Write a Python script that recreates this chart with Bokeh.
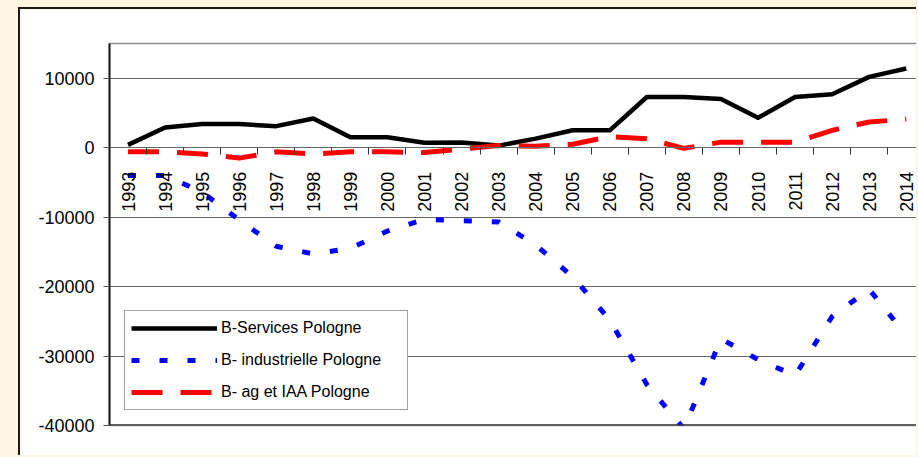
import math
from bokeh.plotting import figure
from bokeh.models import Range1d, FixedTicker, LinearAxis, Span, Spacer
from bokeh.layouts import row, column
from bokeh.embed import file_html
from bokeh.resources import INLINE

# ---- data ----
years = list(range(1993, 2015))
year_labels = [str(y) for y in years]
services = [400, 2900, 3400, 3400, 3100, 4200, 1500, 1500, 700, 750, 300, 1300,
            2500, 2500, 7300, 7300, 7000, 4300, 7300, 7700, 10200, 11400]
industrie = [-4000, -4000, -6400, -10400, -14200, -15300, -14500, -12000, -10300, -10500, -10700, -14000,
             -18600, -24800, -34100, -40500, -27500, -30500, -32800, -24300, -20400, -27000]
agri = [-600, -600, -900, -1500, -600, -900, -600, -600, -700, -200, 300, 200,
        500, 1600, 1300, -100, 800, 800, 800, 2500, 3700, 4100]
y_ticks = [-40000, -30000, -20000, -10000, 0, 10000]
y_tick_labels = ["-40000", "-30000", "-20000", "-10000", "0", "10000"]
series_names = ["B-Services Pologne", "B- industrielle Pologne", "B- ag et IAA Pologne"]

FONT = "Liberation Sans"
boundaries = [y - 0.5 for y in years] + [years[-1] + 0.5]

p = figure(width=898, height=448, output_backend="svg", toolbar_location=None,
           x_range=Range1d(years[0] - 0.5, 2014.33), y_range=Range1d(-40000, 15000),
           x_axis_type=None,
           min_border_left=89, min_border_right=0, min_border_top=34, min_border_bottom=32,
           background_fill_color="white", border_fill_color="white",
           outline_line_color="#8a8a8a", outline_line_width=1.5)
p.styles = {"border-left": "2px solid #1a1a1a", "border-top": "2px solid #1a1a1a"}

# y axis
yax = p.yaxis[0]
yax.ticker = FixedTicker(ticks=y_ticks)
yax.major_label_overrides = dict(zip(y_ticks, y_tick_labels))
yax.major_label_text_font = FONT
yax.major_label_text_font_size = "18px"
yax.major_label_text_color = "#000000"
yax.major_label_standoff = 9
yax.major_tick_out = 6
yax.major_tick_in = 0
yax.minor_tick_out = 0
yax.minor_tick_in = 0
yax.axis_line_color = "#1a1a1a"
yax.axis_line_width = 2
yax.major_tick_line_color = "#555555"
p.ygrid.ticker = FixedTicker(ticks=y_ticks)
p.ygrid.grid_line_color = "#666666"
p.ygrid.grid_line_width = 1

# x axis drawn at y = 0
xax = LinearAxis(fixed_location=0,
                 ticker=FixedTicker(ticks=years, minor_ticks=boundaries))
xax.major_label_overrides = dict(zip(years, year_labels))
xax.major_label_orientation = math.pi / 2
xax.major_label_text_font = FONT
xax.major_label_text_font_size = "18px"
xax.major_label_text_color = "#000000"
xax.major_label_standoff = 17
xax.major_tick_out = 0
xax.major_tick_in = 0
xax.minor_tick_out = 7
xax.minor_tick_in = 0
xax.minor_tick_line_color = "#333333"
xax.axis_line_color = "#666666"
p.add_layout(xax, "below")

# bottom border line
p.add_layout(Span(location=y_ticks[0], dimension="width", line_color="#333333", line_width=2.5))

# series
p.line(years, services, line_color="#000000", line_width=4.5, line_join="round",
       legend_label=series_names[0])
p.line(years, industrie, line_color="#0000FF", line_width=5, line_dash="8 20",
       legend_label=series_names[1])
p.line(years, agri, line_color="#FF0000", line_width=5, line_dash="31 18",
       legend_label=series_names[2])

lg = p.legend[0]
lg.location = (15, 15)
lg.label_text_font = FONT
lg.label_text_font_size = "16px"
lg.label_text_color = "#000000"
lg.glyph_width = 86
lg.glyph_height = 20
lg.label_height = 22
lg.label_width = 180
lg.label_standoff = 4
lg.padding = 6
lg.spacing = 10
lg.margin = 0
lg.border_line_color = "#444444"
lg.border_line_width = 1.2
lg.background_fill_color = "white"
lg.background_fill_alpha = 1

layout = column(Spacer(width=10, height=7),
                row(Spacer(width=18, height=448), p))

html = file_html(layout, INLINE)
html = html.replace("</head>",
                    "<style>body{background-color:#FFF5E0;overflow:hidden;}</style></head>", 1)
open("out.html", "w").write(html)
